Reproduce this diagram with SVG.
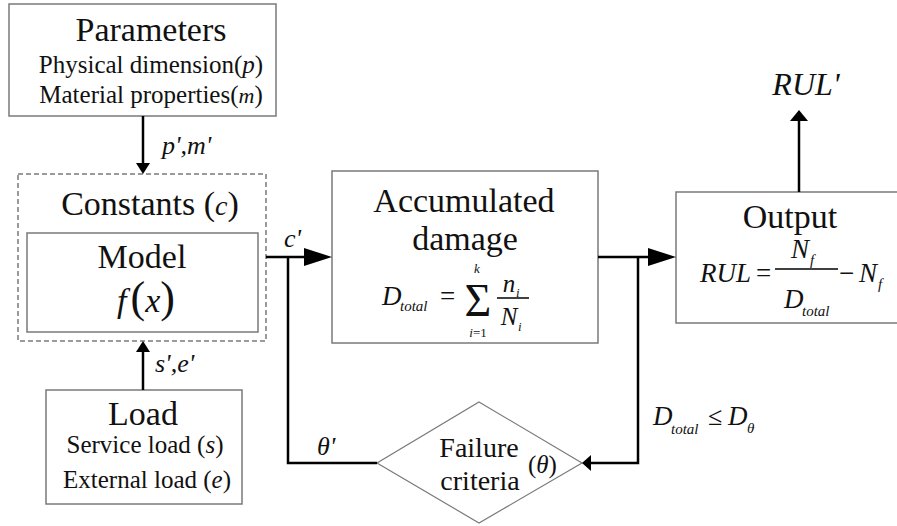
<svg xmlns="http://www.w3.org/2000/svg" width="897" height="526" viewBox="0 0 897 526">
<style>
text{font-family:"Liberation Serif","Times New Roman",serif;fill:#111}
.t{font-size:34px}
.s{font-size:25px}
.i{font-style:italic}
.box{fill:#fff;stroke:#7a7a7a;stroke-width:1.5}
.ln{fill:none;stroke:#000;stroke-width:2.5}
.ah{fill:#000}
</style>
<rect width="897" height="526" fill="#fff"/>
<g id="parameters">
<rect class="box" x="9" y="4" width="267" height="112"/>
<text class="t" x="151" y="41" text-anchor="middle">Parameters</text>
<text class="s" x="151" y="73" text-anchor="middle">Physical dimension(<tspan class="i">p</tspan>)</text>
<text class="s" x="151" y="103" text-anchor="middle">Material properties(<tspan class="i" font-size="22">m</tspan>)</text>
</g>
<g id="constants">
<rect x="18" y="174" width="248" height="167" fill="none" stroke="#7a7a7a" stroke-width="1.5" stroke-dasharray="5,3"/>
<text class="t" x="150" y="215" text-anchor="middle">Constants (<tspan class="i" font-size="28">c</tspan>)</text>
</g>
<g id="model">
<rect class="box" x="27" y="233" width="231" height="99"/>
<text class="t" x="142" y="268" text-anchor="middle">Model</text>
<text x="146" y="312" text-anchor="middle" font-size="34"><tspan class="i">f</tspan><tspan font-size="44" dx="4">(</tspan><tspan class="i">x</tspan><tspan font-size="44">)</tspan></text>
</g>
<g id="load">
<rect class="box" x="46" y="390" width="196" height="114"/>
<text class="t" x="143" y="425" text-anchor="middle">Load</text>
<text class="s" x="145" y="453" text-anchor="middle">Service load (<tspan class="i">s</tspan>)</text>
<text class="s" x="147" y="488" text-anchor="middle">External load (<tspan class="i">e</tspan>)</text>
</g>
<g id="accumulated">
<rect class="box" x="332" y="171" width="266" height="172"/>
<text class="t" x="464" y="212" text-anchor="middle">Accumulated</text>
<text class="t" x="465" y="250" text-anchor="middle">damage</text>
<text class="i" x="382" y="305" font-size="27">D</text>
<text class="i" x="400" y="311" font-size="15">total</text>
<text x="440" y="305" font-size="27">=</text>
<text x="478" y="316" font-size="46" text-anchor="middle">Σ</text>
<text class="i" x="477" y="273" font-size="13" text-anchor="middle">k</text>
<text x="478" y="337" font-size="13" text-anchor="middle"><tspan class="i">i</tspan>=1</text>
<text class="i" x="509" y="292" font-size="25" text-anchor="middle">n</text>
<text class="i" x="516" y="297" font-size="13">i</text>
<line x1="497" y1="298" x2="529" y2="298" stroke="#000" stroke-width="1.5"/>
<text class="i" x="509" y="325" font-size="25" text-anchor="middle">N</text>
<text class="i" x="518" y="331" font-size="13">i</text>
</g>
<g id="output">
<rect class="box" x="676" y="192" width="240" height="131"/>
<text class="t" x="790" y="228" text-anchor="middle">Output</text>
<text class="i" x="700" y="282" font-size="27">RUL</text>
<text x="756" y="282" font-size="27">=</text>
<text class="i" x="791" y="258" font-size="27">N</text>
<text class="i" x="810" y="265" font-size="15">f</text>
<line x1="775" y1="269" x2="838" y2="269" stroke="#000" stroke-width="1.5"/>
<text class="i" x="784" y="308" font-size="27">D</text>
<text class="i" x="802" y="316" font-size="15">total</text>
<text x="839" y="282" font-size="27">−</text>
<text class="i" x="859" y="282" font-size="27">N</text>
<text class="i" x="878" y="289" font-size="15">f</text>
</g>
<g id="failure">
<polygon points="479,402 582,463 479,523 377,463" fill="#fff" stroke="#7a7a7a" stroke-width="1.2"/>
<text x="479" y="457" font-size="28" text-anchor="middle">Failure</text>
<text x="480" y="490" font-size="28" text-anchor="middle">criteria</text>
<text x="528" y="473" font-size="25">(<tspan class="i">θ</tspan>)</text>
</g>
<g id="rul-out">
<text class="i" x="806" y="95" font-size="32" text-anchor="middle">RUL'</text>
</g>
<g id="connectors">
<path class="ln" d="M143 116V164"/>
<polygon class="ah" points="136,163 150,163 143,174"/>
<path class="ln" d="M143 390V351"/>
<polygon class="ah" points="136,352 150,352 143,341"/>
<path class="ln" d="M266 257H306"/>
<polygon class="ah" points="304,248 332,257 304,266"/>
<path class="ln" d="M288 257V463H377"/>
<path class="ln" d="M598 257H650"/>
<polygon class="ah" points="648,248 676,257 648,266"/>
<path class="ln" d="M638 257V463H589"/>
<polygon class="ah" points="591,455 582,463 591,471"/>
<path class="ln" d="M799 192V120"/>
<polygon class="ah" points="790,121 808,121 799,110"/>
</g>
<g id="labels">
<text class="i" x="162" y="154" font-size="26">p',m'</text>
<text class="i" x="155" y="372" font-size="26">s',e'</text>
<text class="i" x="284" y="247" font-size="26">c'</text>
<text class="i" x="317" y="455" font-size="26">θ'</text>
<text class="i" x="653" y="425" font-size="27">D</text>
<text class="i" x="671" y="434" font-size="15">total</text>
<text x="708" y="425" font-size="26">≤</text>
<text class="i" x="728" y="425" font-size="27">D</text>
<text class="i" x="747" y="433" font-size="15">θ</text>
</g>
</svg>
